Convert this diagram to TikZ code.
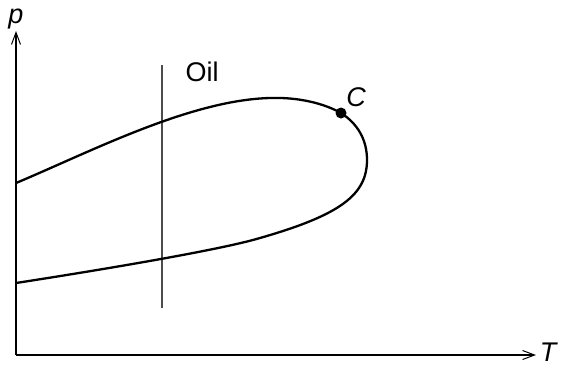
\documentclass[tikz,border=0pt]{standalone}
\usepackage{fontspec}
\setmainfont{Liberation Sans}
\usetikzlibrary{arrows.meta}
\begin{document}
\begin{tikzpicture}[x=1pt,y=-1pt,
  axis/.style={line width=1.3pt,-{Straight Barb[length=12pt,width=9pt,line width=1pt]}},
  curve/.style={line width=2.3pt},
  oilline/.style={line width=1.2pt,draw=black!70},
  lbl/.style={font=\fontsize{27}{27}\selectfont\itshape,inner sep=0pt}]
\useasboundingbox (0,0) rectangle (562,368);
\coordinate (O) at (16,355);
\coordinate (Ytop) at (16,31);
\coordinate (Xend) at (536,355);
\draw[axis] (O) -- (Ytop);
\draw[axis] (O) -- (Xend);
\node[lbl,anchor=base] (p) at (16,23) {p};
\node[lbl] (T) at (548,352) {T};
\coordinate (V1) at (162,65);
\coordinate (V2) at (162,308);
\draw[oilline] (V1) -- (V2);
\node[font=\fontsize{27}{27}\selectfont,inner sep=0pt] (oil) at (202,72) {Oil};
\coordinate (C) at (341,113);
\draw[curve] (16,183) .. controls (90,152) and (190,100) .. (270,98)
  .. controls (300,97) and (325,104) .. (C)
  .. controls (358,124) and (367,140) .. (367,160)
  .. controls (367,195) and (340,215) .. (260,238)
  .. controls (220,250) and (100,270) .. (16,283);
\fill (C) circle (5.5pt);
\node[lbl] (Clabel) at (356,97) {C};
\end{tikzpicture}
\end{document}
